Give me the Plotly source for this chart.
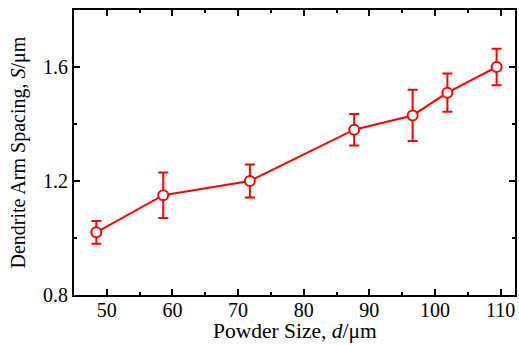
import plotly.graph_objects as go

powder_size = [48.4, 58.6, 71.8, 87.7, 96.6, 101.9, 109.4]
spacing = [1.02, 1.15, 1.20, 1.38, 1.43, 1.51, 1.60]
spacing_err = [0.04, 0.08, 0.058, 0.055, 0.09, 0.067, 0.064]

x_ticks = [50, 60, 70, 80, 90, 100, 110]
y_ticks = [0.8, 1.2, 1.6]

x_title = "Powder Size, <i>d</i>/μm"
y_title = "Dendrite Arm Spacing, <i>S</i>/μm"

red = "#ff0000"
font = "Liberation Serif, Times New Roman, serif"

fig = go.Figure()
fig.add_trace(go.Scatter(
    x=powder_size, y=spacing,
    mode="lines+markers",
    line=dict(color=red, width=2),
    marker=dict(symbol="circle", size=10, color="white", line=dict(width=2, color=red)),
    error_y=dict(type="data", array=spacing_err, visible=True, color=red, thickness=2, width=5),
    showlegend=False,
))

axis_common = dict(
    showline=True, linecolor="black", linewidth=2, mirror="ticks",
    ticks="inside", ticklen=6, tickwidth=1.5, tickcolor="black",
    showgrid=False, zeroline=False, automargin=False,
    tickfont=dict(family=font, size=20, color="black"),
)

fig.update_xaxes(
    range=[45, 112.2], tickvals=x_ticks, ticklabelstandoff=-4,
    minor=dict(dtick=5, tick0=45, ticks="inside", ticklen=3, tickwidth=1.5, tickcolor="black"),
    **axis_common,
)
fig.update_yaxes(
    range=[0.8, 1.8], tickvals=y_ticks, tickformat=".1f",
    minor=dict(dtick=0.2, tick0=0.8, ticks="inside", ticklen=3, tickwidth=1.5, tickcolor="black"),
    **axis_common,
)

fig.add_annotation(
    text=x_title, xref="paper", yref="paper", x=0.5, y=0,
    xanchor="center", yanchor="middle", yshift=-36, showarrow=False,
    font=dict(family=font, size=21.5, color="black"),
)
fig.add_annotation(
    text=y_title, xref="paper", yref="paper", x=0, y=0.5,
    xanchor="center", yanchor="middle", xshift=-56, textangle=-90, showarrow=False,
    font=dict(family=font, size=20, color="black"),
)

fig.update_layout(
    width=519, height=345,
    margin=dict(l=74, r=4, t=10, b=50),
    plot_bgcolor="white", paper_bgcolor="white",
)

# remove the default 8px page margin so the figure fills the window exactly
fig.write_html(
    "out.html",
    config={"displayModeBar": False},
    post_script="document.body.style.margin='0';document.body.style.overflow='hidden';",
)
